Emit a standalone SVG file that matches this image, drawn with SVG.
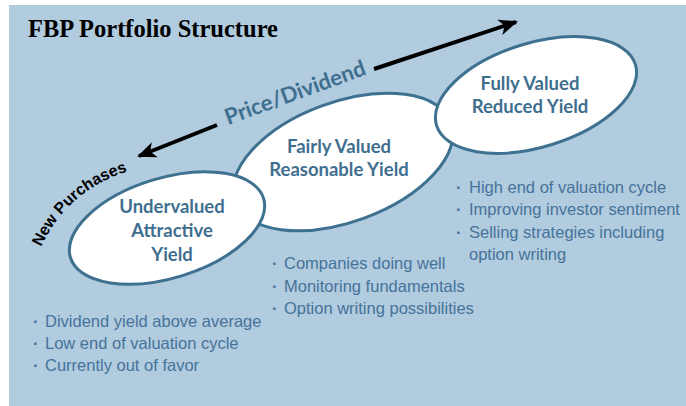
<svg xmlns="http://www.w3.org/2000/svg" width="686" height="406" viewBox="0 0 686 406">
<defs>
<style>
.bg{fill:#ffffff}
.panel{fill:#b1cbdf}
.ell{fill:#ffffff;stroke:#3e7090;stroke-width:3}
.lbl{font-family:Lato,"Open Sans","Liberation Sans",sans-serif;font-weight:bold;font-size:18.5px;fill:#3f6f8f;text-anchor:middle}
.bul{font-family:"Liberation Sans",Arial,sans-serif;font-size:16.5px;fill:#46739a}
.dot{font-family:"Liberation Sans",Arial,sans-serif;font-size:16.5px;font-weight:bold;fill:#46739a}
.arrow{stroke:#000;stroke-width:4;fill:none}
</style>
<marker id="ah" viewBox="-18 -9 20 18" markerWidth="20" markerHeight="18" refX="0" refY="0" orient="auto" markerUnits="userSpaceOnUse">
<path d="M2,0 L-17,-8 L-12,0 L-17,8 Z" fill="#000"/>
</marker>
<path id="np" d="M41 247 Q 70 186 136 169"/>
</defs>
<rect class="bg" x="0" y="0" width="686" height="406"/>
<rect class="panel" x="9" y="5" width="677" height="401"/>
<text x="28" y="37" font-family="'Liberation Serif','Times New Roman',serif" font-weight="bold" font-size="24.5" fill="#000">FBP Portfolio Structure</text>

<g id="connectors">
<line class="arrow" x1="374" y1="69" x2="516" y2="22" marker-end="url(#ah)"/>
<line class="arrow" x1="217" y1="125" x2="139" y2="156" marker-end="url(#ah)"/>
</g>

<text transform="translate(228,125) rotate(-20)" font-family="Lato,'Open Sans',sans-serif" font-weight="bold" font-size="22" fill="#3f6f8f">Price/Dividend</text>

<text font-family="'Liberation Sans',Arial,sans-serif" font-weight="bold" font-size="16" fill="#000"><textPath href="#np">New Purchases</textPath></text>

<g id="fairly">
<ellipse class="ell" cx="343" cy="162" rx="115" ry="60" transform="rotate(-20 343 162)"/>
<text class="lbl" x="339" y="153">Fairly Valued</text>
<text class="lbl" x="339" y="176">Reasonable Yield</text>
</g>

<g id="undervalued">
<ellipse class="ell" cx="167" cy="228" rx="101" ry="50" transform="rotate(-17 167 228)"/>
<text class="lbl" x="172" y="213">Undervalued</text>
<text class="lbl" x="172" y="237">Attractive</text>
<text class="lbl" x="172" y="261">Yield</text>
</g>

<g id="fully">
<ellipse class="ell" cx="536" cy="95" rx="104" ry="52" transform="rotate(-17 536 95)"/>
<text class="lbl" x="530" y="90">Fully Valued</text>
<text class="lbl" x="530" y="113">Reduced Yield</text>
</g>

<g id="bullets-left">
<text class="dot" x="33" y="327">·</text><text class="bul" x="45" y="327">Dividend yield above average</text>
<text class="dot" x="33" y="349">·</text><text class="bul" x="45" y="349">Low end of valuation cycle</text>
<text class="dot" x="33" y="371">·</text><text class="bul" x="45" y="371">Currently out of favor</text>
</g>

<g id="bullets-mid">
<text class="dot" x="272" y="269">·</text><text class="bul" x="284" y="269">Companies doing well</text>
<text class="dot" x="272" y="292">·</text><text class="bul" x="284" y="292">Monitoring fundamentals</text>
<text class="dot" x="272" y="314">·</text><text class="bul" x="284" y="314">Option writing possibilities</text>
</g>

<g id="bullets-right">
<text class="dot" x="456" y="193">·</text><text class="bul" x="469" y="193">High end of valuation cycle</text>
<text class="dot" x="456" y="215">·</text><text class="bul" x="469" y="215">Improving investor sentiment</text>
<text class="dot" x="456" y="238">·</text><text class="bul" x="469" y="238">Selling strategies including</text>
<text class="bul" x="469" y="260">option writing</text>
</g>
</svg>
